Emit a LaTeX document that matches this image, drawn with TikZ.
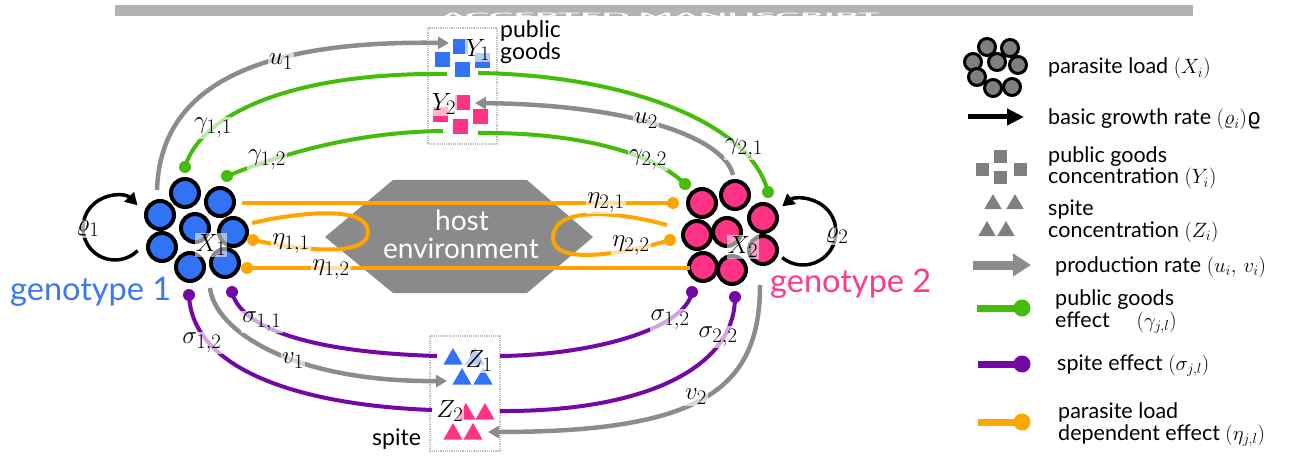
\documentclass[tikz,border=0pt]{standalone}
\usepackage{fontspec}
\setmainfont{Lato}
\newfontfamily\dejavu{DejaVu Sans}
\usetikzlibrary{arrows.meta,shapes.geometric}
\definecolor{cblue}{HTML}{3272F5}
\definecolor{cpink}{HTML}{FF3385}
\definecolor{cgreen}{HTML}{44BC0C}
\definecolor{cpurple}{HTML}{7308A5}
\definecolor{corange}{HTML}{FFA500}
\definecolor{carrow}{HTML}{8C8C8C}
\definecolor{chex}{HTML}{8A8A8A}
\definecolor{cbar}{HTML}{B3B3B3}
\definecolor{cleg}{HTML}{7F7F7F}
\definecolor{ctxtblue}{HTML}{3A78F2}
\definecolor{ctxtpink}{HTML}{FF3A8C}
\tikzset{
  cell/.style={circle, draw=black, line width=4pt, minimum size=28pt, inner sep=0pt},
  bcell/.style={cell, fill=cblue},
  pcell/.style={cell, fill=cpink},
  gcell/.style={circle, draw=black, line width=3pt, minimum size=17pt, inner sep=0pt, fill=cleg},
  effdot/.style={circle, inner sep=0pt, minimum size=12pt},
  gdot/.style={effdot, fill=cgreen},
  sdot/.style={effdot, fill=cpurple},
  odot/.style={effdot, fill=corange},
  gline/.style={draw=cgreen, line width=4pt},
  sline/.style={draw=cpurple, line width=4pt},
  oline/.style={draw=corange, line width=4pt},
  prod/.style={draw=carrow, line width=4.5pt, -{Triangle[length=11pt,width=12pt]}},
  growth/.style={draw=black, line width=3.5pt, -{Triangle[length=12pt,width=13pt]}},
  mlbl/.style={fill=white, fill opacity=0.65, text opacity=1, inner sep=1pt, font=\fontsize{28}{28}\selectfont},
  sq/.style={rectangle, inner sep=0pt, minimum size=15pt},
  bsq/.style={sq, fill=cblue},
  psq/.style={sq, fill=cpink},
  lsq/.style={rectangle, inner sep=0pt, minimum size=13pt, fill=cleg},
  tri/.style={regular polygon, regular polygon sides=3, inner sep=0pt, minimum size=22pt},
  btri/.style={tri, fill=cblue},
  ptri/.style={tri, fill=cpink},
  ltri/.style={tri, fill=cleg, minimum size=20pt},
  dotbox/.style={draw=gray!50, densely dotted, line width=1.2pt},
  legtxt/.style={anchor=base west, inner sep=0pt, font=\fontsize{21.5}{22}\selectfont},
  bigtxt/.style={anchor=base west, inner sep=0pt, font=\fontsize{32.5}{32}\selectfont},
  boxtxt/.style={anchor=base west, inner sep=0pt, font=\fontsize{23}{23}\selectfont},
  hosttxt/.style={anchor=base, inner sep=0pt, text=white, font=\fontsize{28}{28}\selectfont},
}
\begin{document}
\begin{tikzpicture}[x=1pt,y=-1pt]
\useasboundingbox (0,0) rectangle (1308,457);
% top bar
\fill[cbar] (115,5) rectangle (1193,16.5);
\begin{scope}
\clip (115,5) rectangle (1193,16.5);
\node[anchor=north, inner sep=0pt, text=white, font=\bfseries\fontsize{37}{37}\selectfont] (banner) at (660,12.5) {\scalebox{1}[0.2]{ACCEPTED MANUSCRIPT}};
\end{scope}

% host environment
\fill[chex] (393,180) -- (527,180) -- (593,237) -- (527,293) -- (393,293) -- (325,237) -- cycle;
\node[hosttxt] (host) at (462,230) {host};
\node[hosttxt] (env) at (461,258) {environment};

% boxes
\draw[dotbox] (428,28) rectangle (497,144);
\draw[dotbox] (430,336) rectangle (500,451);

% genotype blobs
\foreach \n/\x/\y in {1/185/193, 2/220/202, 3/160/215, 4/195/228, 5/233/232, 6/162/247, 7/190/267, 8/225/263}
  \node[bcell] (a\n) at (\x,\y) {};
\foreach \n/\x/\y in {1/702/203, 2/735/195, 3/763/218, 4/697/235, 5/727/232, 6/763/250, 7/703/267, 8/732/270}
  \node[pcell] (b\n) at (\x,\y) {};
\node[mlbl, fill opacity=0.55] (X1) at (211,245) {$X_1$};
\node[mlbl, fill opacity=0.55] (X2) at (743,247) {$X_2$};
\node[bigtxt, text=ctxtblue] (geno1) at (10,300) {genotype 1};
\node[bigtxt, text=ctxtpink] (geno2) at (770,292) {genotype 2};

% public goods squares
\node[bsq] (y1a) at (460,47) {};
\node[bsq] (y1b) at (442,60) {};
\node[bsq] (y1c) at (462,70) {};
\node[bsq] (y1d) at (482,61) {};
\node[psq] (y2a) at (462,103) {};
\node[psq] (y2b) at (480,117) {};
\node[psq] (y2c) at (460,127) {};
\node[psq] (y2d) at (440,115) {};
\node[mlbl] (Y1) at (478,50) {$Y_1$};
\node[mlbl] (Y2) at (444,104) {$Y_2$};
\node[boxtxt] (pg1) at (500,38) {public};
\node[boxtxt] (pg2) at (500,60) {goods};

% spite triangles
\node[btri] (z1a) at (453,359) {};
\node[btri] (z1b) at (475,359) {};
\node[btri] (z1c) at (462,379) {};
\node[btri] (z1d) at (483,379) {};
\node[ptri] (z2a) at (466,414) {};
\node[ptri] (z2b) at (485,414) {};
\node[ptri] (z2c) at (453,434) {};
\node[ptri] (z2d) at (473,434) {};
\node[mlbl] (Z1) at (479,361) {$Z_1$};
\node[mlbl] (Z2) at (450,411) {$Z_2$};
\node[boxtxt] (spt) at (372,445) {spite};

% free ends at boxes
\coordinate (Y1in) at (449,43);
\coordinate (Y1l) at (447,74);
\coordinate (Y1r) at (478,73);
\coordinate (Y2in) at (475,103);
\coordinate (Y2l) at (443,131);
\coordinate (Y2r) at (478,133);
\coordinate (Z1in) at (447,381);
\coordinate (Z1l) at (437,356);
\coordinate (Z1r) at (500,356);
\coordinate (Z2in) at (488,432);
\coordinate (Z2l) at (432,410);
\coordinate (Z2r) at (500,411);
\coordinate (u1s) at (157,190);
\coordinate (u2s) at (733,175);
\coordinate (v1s) at (210,288);
\coordinate (v2s) at (760,285);
\coordinate (e21s) at (242,203);
\coordinate (e11s) at (252,223);
\coordinate (e12e) at (690,268);
\coordinate (e22s) at (667,225);

% effect dot positions
\coordinate (g11) at (185,167);
\coordinate (g12) at (227,176);
\coordinate (g21) at (768,192);
\coordinate (g22) at (685,184);
\coordinate (s11) at (232,292);
\coordinate (s12l) at (189,295);
\coordinate (s12r) at (692,292);
\coordinate (s22) at (735,297);
\coordinate (o21) at (673,203);
\coordinate (o11) at (253,240);
\coordinate (o12) at (247,268);
\coordinate (o22) at (670,240);

% production arrows
\draw[prod] (u1s) .. controls (160,95) and (240,40) .. (Y1in);
\draw[prod] (u2s) .. controls (725,140) and (640,105) .. (Y2in);
\draw[prod] (v1s) .. controls (215,330) and (290,382) .. (Z1in);
\draw[prod] (v2s) .. controls (760,390) and (700,432) .. (Z2in);

% public goods effects
\draw[gline] (g11) .. controls (200,115) and (290,72) .. (Y1l);
\draw[gline] (g12) .. controls (260,163) and (340,132) .. (Y2l);
\draw[gline] (Y1r) .. controls (620,75) and (750,120) .. (g21);
\draw[gline] (Y2r) .. controls (570,132) and (650,150) .. (g22);

% spite effects
\draw[sline] (s11) .. controls (240,325) and (300,352) .. (Z1l);
\draw[sline] (s12l) .. controls (192,370) and (300,405) .. (Z2l);
\draw[sline] (Z1r) .. controls (590,355) and (685,330) .. (s12r);
\draw[sline] (Z2r) .. controls (640,412) and (735,370) .. (s22);

% parasite load dependent effects
\draw[oline] (e21s) -- (o21);
\draw[oline] (o12) -- (e12e);
\draw[oline] (e11s) .. controls (300,212) and (368,205) .. (368,232) .. controls (368,258) and (300,250) .. (o11);
\draw[oline] (e22s) .. controls (620,212) and (553,205) .. (553,238) .. controls (553,265) and (620,255) .. (o22);

% effect dots
\node[odot] (do21) at (o21) {};
\node[odot] (do11) at (o11) {};
\node[odot] (do12) at (o12) {};
\node[odot] (do22) at (o22) {};
\node[gdot] (dg11) at (g11) {};
\node[gdot] (dg12) at (g12) {};
\node[gdot] (dg21) at (g21) {};
\node[gdot] (dg22) at (g22) {};
\node[sdot] (ds11) at (s11) {};
\node[sdot] (ds12l) at (s12l) {};
\node[sdot] (ds12r) at (s12r) {};
\node[sdot] (ds22) at (s22) {};

% growth loops
\coordinate (r1s) at (137.6,250.6);
\coordinate (r2s) at (782.2,257.6);
\draw[growth] (r1s) arc[start angle=45, end angle=315, radius=32];
\draw[growth] (r2s) arc[start angle=129, end angle=-129, radius=33];

% labels
\node[mlbl] (lu1) at (281,62) {$u_1$};
\node[mlbl] (lu2) at (646,121) {$u_2$};
\node[mlbl] (lv1) at (293,361) {$v_1$};
\node[mlbl] (lv2) at (696,397) {$v_2$};
\node[mlbl] (lg11) at (213,128) {$\gamma_{1,1}$};
\node[mlbl] (lg12) at (267,160) {$\gamma_{1,2}$};
\node[mlbl] (lg21) at (744,149) {$\gamma_{2,1}$};
\node[mlbl] (lg22) at (648,160) {$\gamma_{2,2}$};
\node[mlbl] (le21) at (606,203) {$\eta_{2,1}$};
\node[mlbl] (le11) at (291,244) {$\eta_{1,1}$};
\node[mlbl] (le12) at (331,270) {$\eta_{1,2}$};
\node[mlbl] (le22) at (631,246) {$\eta_{2,2}$};
\node[mlbl] (ls11) at (262,322) {$\sigma_{1,1}$};
\node[mlbl] (ls12l) at (202,343) {$\sigma_{1,2}$};
\node[mlbl] (ls12r) at (670,320) {$\sigma_{1,2}$};
\node[mlbl] (ls22) at (718,337) {$\sigma_{2,2}$};
\node[mlbl] (lr1) at (88,229) {$\varrho_1$};
\node[mlbl] (lr2) at (837,236) {$\varrho_2$};

% legend
\foreach \n/\x/\y in {1/987/47, 2/1010/48, 3/973/62, 4/997/62, 5/1018/65, 6/977/77, 7/993/88, 8/1012/87}
  \node[gcell] (k\n) at (\x,\y) {};
\node[legtxt] (t1) at (1048,74) {parasite load $(X_i)$};
\coordinate (ka0) at (968,117);
\coordinate (ka1) at (1024,117);
\draw[line width=5pt, -{Triangle[length=17pt,width=16pt]}] (ka0) -- (ka1);
\node[legtxt] (t2) at (1048,125) {basic growth rate $(\varrho_i)${\dejavu ϱ}};
\node[lsq] (ks1) at (1000,157) {};
\node[lsq] (ks2) at (982,170) {};
\node[lsq] (ks3) at (1000,178) {};
\node[lsq] (ks4) at (1020,170) {};
\node[legtxt] (t3a) at (1048,163) {public goods};
\node[legtxt] (t3b) at (1048,184) {concentration $(Y_i)$};
\node[ltri] (kt1) at (993,204) {};
\node[ltri] (kt2) at (1015,204) {};
\node[ltri] (kt3) at (987,231) {};
\node[ltri] (kt4) at (1006,231) {};
\node[legtxt] (t4a) at (1048,215) {spite};
\node[legtxt] (t4b) at (1048,237) {concentration $(Z_i)$};
\coordinate (kp0) at (973,265);
\coordinate (kp1) at (1031,265);
\draw[carrow, line width=9pt, -{Triangle[length=18pt,width=22pt]}] (kp0) -- (kp1);
\node[legtxt] (t5) at (1055,272) {production rate $(u_i,\,v_i)$};
\coordinate (kg0) at (977,308);
\node[circle, inner sep=0pt, minimum size=17pt, fill=cgreen] (kg1) at (1022,308) {};
\draw[cgreen, line width=7pt] (kg0) -- (kg1.center);
\node[legtxt] (t6a) at (1055,305) {public goods};
\node[legtxt] (t6b) at (1055,327) {effect \quad$(\gamma_{j,l})$};
\coordinate (kv0) at (978,364);
\node[circle, inner sep=0pt, minimum size=17pt, fill=cpurple] (kv1) at (1022,364) {};
\draw[cpurple, line width=7pt] (kv0) -- (kv1.center);
\node[legtxt] (t7) at (1057,370) {spite effect $(\sigma_{j,l})$};
\coordinate (ko0) at (978,422);
\node[circle, inner sep=0pt, minimum size=17pt, fill=corange] (ko1) at (1022,422) {};
\draw[corange, line width=7pt] (ko0) -- (ko1.center);
\node[legtxt] (t8a) at (1058,418) {parasite load};
\node[legtxt] (t8b) at (1058,440) {dependent effect $(\eta_{j,l})$};
\end{tikzpicture}
\end{document}
